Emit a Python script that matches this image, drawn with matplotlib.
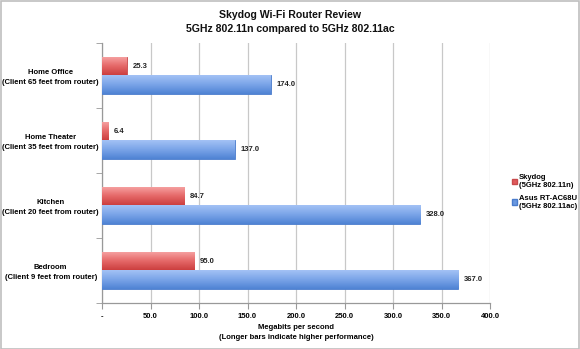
import matplotlib
matplotlib.use("Agg")
import matplotlib.pyplot as plt
import numpy as np
from matplotlib.colors import LinearSegmentedColormap
from matplotlib.patches import Patch

plt.rcParams['font.family'] = ['Liberation Sans', 'DejaVu Sans']

categories = ["Bedroom\n(Client 9 feet from router)",
              "Kitchen\n(Client 20 feet from router)",
              "Home Theater\n(Client 35 feet from router)",
              "Home Office\n(Client 65 feet from router)"]
skydog = [95.0, 84.7, 6.4, 25.3]
asus = [367.0, 328.0, 137.0, 174.0]
series_names = ["Skydog\n(5GHz 802.11n)", "Asus RT-AC68U\n(5GHz 802.11ac)"]
xticks = [0, 50, 100, 150, 200, 250, 300, 350, 400]
xticklabels = ["-", "50.0", "100.0", "150.0", "200.0", "250.0", "300.0", "350.0", "400.0"]

FS = 5.5

fig = plt.figure(figsize=(5.8, 3.49), dpi=100)
fig.patch.set_facecolor("white")
fig.patches.append(plt.Rectangle((0.001, 0.001), 0.997, 0.996, transform=fig.transFigure,
                                 fill=False, edgecolor="#bfbfbf", linewidth=1.2))
ax = fig.add_axes([0.176, 0.132, 0.669, 0.745])

y = np.arange(len(categories))
h = 0.28
red_bars = ax.barh(y + h / 2, skydog, height=h, color="#e05a5c", edgecolor="#c84a4c", linewidth=0.6, zorder=3)
blue_bars = ax.barh(y - h / 2, asus, height=h, color="#6a98e0", edgecolor="#4a7ccc", linewidth=0.6, zorder=3)

red_cmap = LinearSegmentedColormap.from_list("r", ["#f7a5a5", "#e66a6a", "#cc3f3f"])
blue_cmap = LinearSegmentedColormap.from_list("b", ["#a3c2f5", "#7aa4e8", "#4f83d4"])
grad = np.linspace(0, 1, 64).reshape(-1, 1)
for bars, cmap in ((red_bars, red_cmap), (blue_bars, blue_cmap)):
    for p in bars:
        x0, y0 = p.get_x(), p.get_y()
        w, hh = p.get_width(), p.get_height()
        im = ax.imshow(grad, cmap=cmap, aspect="auto", extent=(x0, x0 + w, y0, y0 + hh),
                       origin="upper", zorder=3.5)
        im.set_clip_path(p)

for bars, vals in ((red_bars, skydog), (blue_bars, asus)):
    for p, v in zip(bars, vals):
        ax.text(p.get_width() + 6, p.get_y() + p.get_height() / 2, f"{v:.1f}",
                va="center", ha="left", fontsize=FS, fontweight="bold", color="#222222", zorder=5)

ax.set_xlim(0, 400)
ax.set_ylim(-0.5, len(categories) - 0.5)
ax.set_xticks(xticks)
ax.set_xticklabels(xticklabels, fontsize=FS, fontweight="bold")
ax.set_yticks(y)
ax.set_yticklabels(categories, fontsize=FS, fontweight="bold", linespacing=1.5, ha="center")
ax.tick_params(axis="y", length=0, pad=37)
ax.set_yticks(np.arange(-0.5, len(categories), 1), minor=True)
ax.tick_params(axis="y", which="minor", length=4, color="#999999")
ax.tick_params(axis="x", length=4, color="#999999", pad=3)
ax.grid(axis="x", color="#c8c8c8", linewidth=0.9, zorder=0)
ax.set_axisbelow(True)
for s in ("top", "right"):
    ax.spines[s].set_visible(False)
for s in ("left", "bottom"):
    ax.spines[s].set_color("#999999")
    ax.spines[s].set_linewidth(0.9)

ax.set_xlabel("Megabits per second\n(Longer bars indicate higher performance)",
              fontsize=FS, fontweight="bold", linespacing=1.6, labelpad=3)

fig.text(0.5, 0.937, "Skydog Wi-Fi Router Review\n5GHz 802.11n compared to 5GHz 802.11ac",
         ha="center", va="center", fontsize=7.6, fontweight="bold", linespacing=1.5, color="#111111")

handles = [Patch(facecolor="#e05a5c", edgecolor="#c84a4c"), Patch(facecolor="#6a98e0", edgecolor="#4a7ccc")]
fig.legend(handles, series_names, loc="center left", bbox_to_anchor=(0.882, 0.45), frameon=False,
           prop={"size": FS, "weight": "bold"}, handlelength=0.7, handleheight=0.7,
           handletextpad=0.3, labelspacing=0.7, borderpad=0, borderaxespad=0)

fig.savefig("out.png", dpi=100)
